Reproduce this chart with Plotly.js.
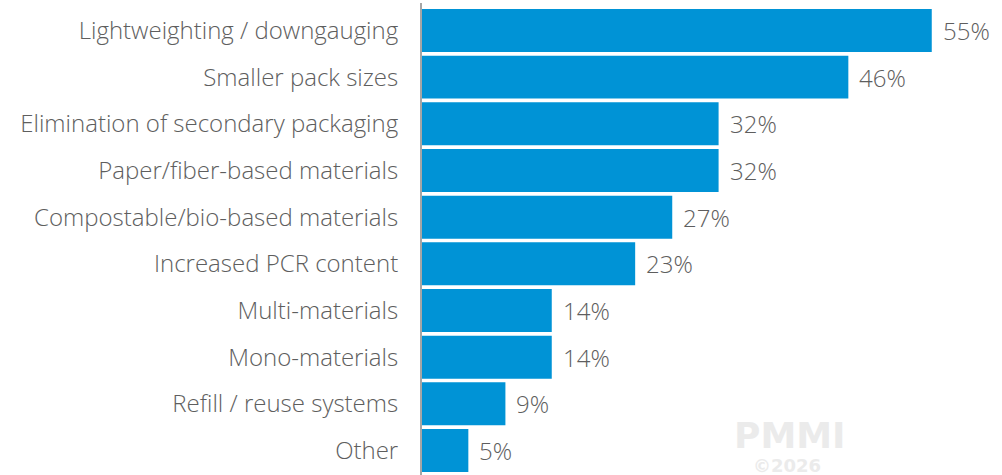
<!DOCTYPE html>
<html>
<head>
<meta charset="utf-8">
<script src="https://cdn.plot.ly/plotly-3.0.1.min.js"></script>
<style>html,body{margin:0;padding:0;background:#fff;}#chart{width:1002px;height:475px;}</style>
</head>
<body>
<div id="chart"></div>
<script>
const categories = [
  "Lightweighting / downgauging",
  "Smaller pack sizes",
  "Elimination of secondary packaging",
  "Paper/fiber-based materials",
  "Compostable/bio-based materials",
  "Increased PCR content",
  "Multi-materials",
  "Mono-materials",
  "Refill / reuse systems",
  "Other"
];
const values = [55, 46, 32, 32, 27, 23, 14, 14, 9, 5];
const valueLabels = values.map(v => v + "%");

const FONT = "'Open Sans', 'Noto Sans', sans-serif";
const GRAY = "#5e5e5e";

const trace = {
  type: "bar",
  orientation: "h",
  x: values,
  y: categories,
  marker: {color: "#0093d6"},
  hoverinfo: "none"
};

const annotations = values.map((v, i) => ({
  x: v, y: categories[i], xref: "x", yref: "y",
  text: valueLabels[i], showarrow: false,
  xanchor: "left", yanchor: "middle", xshift: 9, yshift: 0,
  font: {family: FONT, size: 24, weight: 300, color: GRAY}
}));

annotations.push({
  xref: "paper", yref: "paper", x: 0.645, y: 0.083,
  text: "<b>PMMI</b>", showarrow: false, xanchor: "center", yanchor: "middle",
  font: {family: "DejaVu Sans", size: 36, color: "#ebebeb"}
});
annotations.push({
  xref: "paper", yref: "paper", x: 0.64, y: 0.021,
  text: "<b>©2026</b>", showarrow: false, xanchor: "center", yanchor: "middle",
  font: {family: "DejaVu Sans", size: 18, color: "#ebebeb"}
});

const layout = {
  width: 1002, height: 475,
  margin: {l: 422, r: 10, t: 3, b: 0},
  paper_bgcolor: "#fff", plot_bgcolor: "#fff",
  showlegend: false,
  bargap: 0.08,
  xaxis: {range: [0, 61.5], visible: false, fixedrange: true},
  yaxis: {
    type: "category",
    range: [9.525, -0.589],
    showline: true, linecolor: "#a6a6a6", linewidth: 2,
    showgrid: false, zeroline: false,
    ticks: "", ticklabelstandoff: 17,
    tickfont: {family: FONT, size: 24, weight: 300, color: GRAY}
  },
  annotations: annotations
};

Plotly.newPlot("chart", [trace], layout, {staticPlot: true, displayModeBar: false});
</script>
</body>
</html>
